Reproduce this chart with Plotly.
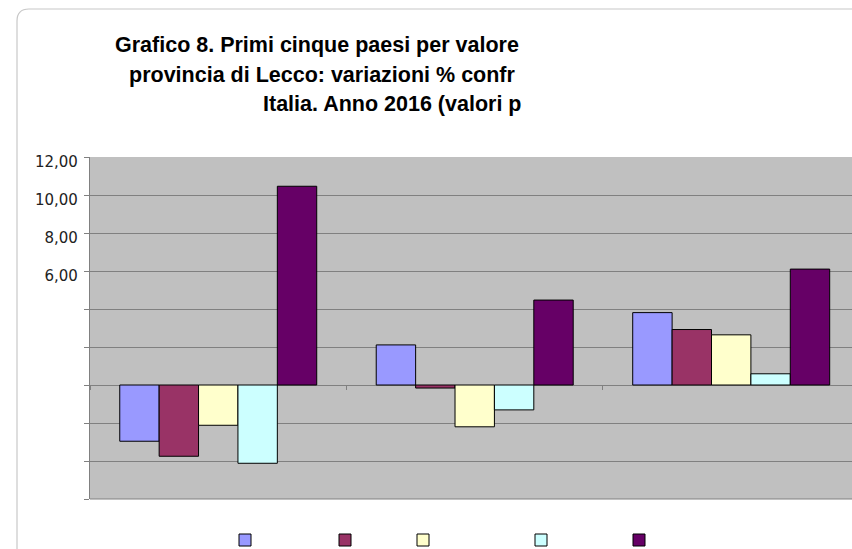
import plotly.graph_objects as go

# ---- data ----
categories = ["Lecco", "Lombardia", "Italia"]
serie_1 = [-2.96, 2.11, 3.81]
serie_2 = [-3.75, -0.16, 2.92]
serie_3 = [-2.12, -2.20, 2.64]
serie_4 = [-4.12, -1.31, 0.59]
serie_5 = [10.46, 4.47, 6.10]
series_values = [serie_1, serie_2, serie_3, serie_4, serie_5]
series_colors = ["#9999FF", "#993366", "#FFFFCC", "#CCFFFF", "#660066"]
y_tick_values = [-6, -4, -2, 0, 2, 4, 6, 8, 10, 12]
y_tick_labels = ["", "", "", "", "", "", "6,00", "8,00", "10,00", "12,00"]
title_lines = [
    "Grafico 8. Primi cinque paesi per valore",
    "provincia di Lecco: variazioni % confr",
    "Italia. Anno 2016 (valori p",
]

W, H = 852, 549
ML, MR, MT, MB = 90, 0, 157, 50
PW, PH = W - ML - MR, H - MT - MB


def fx(px):
    return (px - ML) / PW


def fy(py):
    return (H - MB - py) / PH


legend_ids = ["legend", "legend2", "legend3", "legend4", "legend5"]
legend_marker_x = [244, 344, 422, 540, 638]

fig = go.Figure()
for vals, col, lid in zip(series_values, series_colors, legend_ids):
    fig.add_trace(go.Bar(
        x=categories, y=vals, name=" ", legend=lid,
        marker=dict(color=col, line=dict(color="#000000", width=1)),
        hoverinfo="y",
    ))

# title (clipped on the right as in the reference)
title_centers = [(317, 45), (322, 74.5), (392, 104)]
annotations = []
for txt, (cx, cy) in zip(title_lines, title_centers):
    annotations.append(dict(
        text=txt, xref="paper", yref="paper", x=fx(cx), y=fy(cy),
        xanchor="center", yanchor="middle", showarrow=False,
        font=dict(family="Liberation Sans, Arial, sans-serif", size=21.5,
                  color="#000000", weight="bold"),
    ))

frame_path = (f"M {fx(17)},{fy(600)} L {fx(17)},{fy(21)} "
              f"Q {fx(17)},{fy(9)} {fx(29)},{fy(9)} L {fx(900)},{fy(9)}")

legends = {}
for lid, mx in zip(legend_ids, legend_marker_x):
    legends[lid] = dict(orientation="h", x=fx(mx - 19), xanchor="left",
                        y=fy(540), yanchor="middle",
                        bgcolor="rgba(0,0,0,0)", font=dict(size=10))

fig.update_layout(
    width=W, height=H, autosize=False,
    margin=dict(l=ML, r=MR, t=MT, b=MB, pad=0, autoexpand=False),
    paper_bgcolor="#FFFFFF", plot_bgcolor="#C0C0C0",
    barmode="group", bargap=0.232, bargroupgap=0,
    annotations=annotations,
    shapes=[
        dict(type="path", path=frame_path, xref="paper", yref="paper",
             line=dict(color="#C8C8C8", width=1.2), layer="above"),
        dict(type="line", xref="paper", yref="y domain", x0=0, x1=1,
             y0=0, y1=0, line=dict(color="#808080", width=1.2),
             layer="above"),
    ],
    showlegend=True,
    **legends,
    xaxis=dict(type="category", range=[-0.5, 2.471], showticklabels=False,
               showgrid=False, zeroline=False, showline=False,
               anchor="free", position=1 / 3, ticks="outside",
               tickson="boundaries", ticklen=4, tickcolor="#808080"),
    yaxis=dict(range=[-6, 12], tickvals=y_tick_values, ticktext=y_tick_labels,
               showgrid=True, gridcolor="#808080", gridwidth=1.2,
               zeroline=False, showline=True, linecolor="#808080",
               linewidth=1.2, ticks="outside", ticklen=5, tickcolor="#808080",
               ticklabelstandoff=3, ticklabelshift=5,
               tickfont=dict(family="DejaVu Sans", size=15, color="#222222")),
)

fig.write_html("out.html", config={"displayModeBar": False},
               post_script="document.body.style.margin='0px';")
